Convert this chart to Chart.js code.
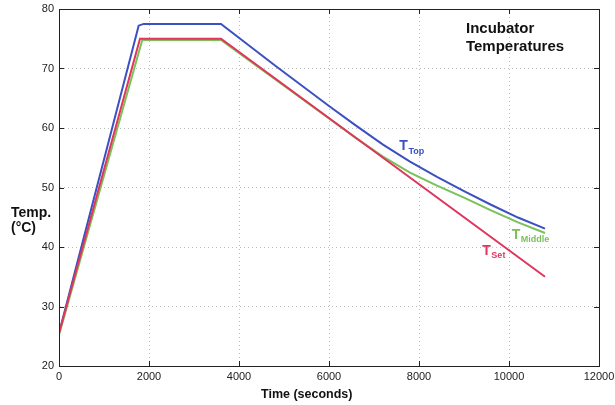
<!DOCTYPE html>
<html>
<head>
<meta charset="utf-8">
<title>Incubator Temperatures</title>
<script src="https://cdn.jsdelivr.net/npm/chart.js@4/dist/chart.umd.min.js"></script>
<style>
  html, body { margin: 0; padding: 0; background: #fff; }
  canvas { display: block; }
</style>
</head>
<body>
<canvas id="chart" width="615" height="405"></canvas>
<script>
// Set-point profile (seconds, °C)
const setTime = [0, 1800, 3600, 10800];
const setTemp = [25.5, 75, 75, 35];

// Measured temperature, top of incubator
const topTime = [0, 1770, 1880, 3600, 4200, 4800, 5400, 6000, 6600, 7200, 7800, 8400, 9000, 9600, 10200, 10800];
const topTemp = [25.5, 77.2, 77.5, 77.5, 74.0, 70.5, 67.1, 63.7, 60.4, 57.2, 54.35, 51.8, 49.4, 47.1, 44.95, 43.1];

// Measured temperature, middle of incubator
const midTime = [0, 1850, 3600, 6000, 6600, 7200, 7800, 8400, 9000, 9600, 10200, 10800];
const midTemp = [25.2, 74.8, 74.8, 61.6, 58.3, 55.2, 52.5, 50.3, 48.3, 46.15, 44.15, 42.35];

// Axis ticks
const xTicks = [0, 2000, 4000, 6000, 8000, 10000, 12000];
const yTicks = [20, 30, 40, 50, 60, 70, 80];

const COLORS = { set: '#e0355c', top: '#3b50c2', mid: '#78c257' };

function points(ts, vs) {
  return ts.map((t, i) => ({ x: t, y: vs[i] }));
}

// Short inward tick marks on all four sides, plus the closed frame
const frameTicks = {
  id: 'frameTicks',
  afterDraw(chart) {
    const { ctx, chartArea: a, scales: { x, y } } = chart;
    ctx.save();
    ctx.strokeStyle = '#222';
    ctx.lineWidth = 1;
    ctx.beginPath();
    const L = 5;
    xTicks.slice(1, -1).forEach(v => {
      const px = Math.round(x.getPixelForValue(v)) + 0.5;
      ctx.moveTo(px, a.bottom); ctx.lineTo(px, a.bottom - L);
      ctx.moveTo(px, a.top); ctx.lineTo(px, a.top + L);
    });
    yTicks.slice(1, -1).forEach(v => {
      const py = Math.round(y.getPixelForValue(v)) + 0.5;
      ctx.moveTo(a.left, py); ctx.lineTo(a.left + L, py);
      ctx.moveTo(a.right, py); ctx.lineTo(a.right - L, py);
    });
    ctx.stroke();
    ctx.strokeRect(Math.round(a.left) + 0.5, Math.round(a.top) + 0.5,
                   Math.round(a.right - a.left), Math.round(a.bottom - a.top));
    ctx.restore();
  }
};

// Text labels: titles and the series names with subscripts
const labels = {
  id: 'labels',
  afterDraw(chart) {
    const { ctx, scales: { x, y } } = chart;
    const FONT = '"Liberation Sans", Arial, sans-serif';
    ctx.save();
    ctx.textAlign = 'left';
    ctx.textBaseline = 'alphabetic';

    // Plot caption
    ctx.fillStyle = '#111';
    ctx.font = 'bold 15px ' + FONT;
    ctx.fillText('Incubator', x.getPixelForValue(9044), y.getPixelForValue(75.9));
    ctx.fillText('Temperatures', x.getPixelForValue(9044), y.getPixelForValue(73.0));

    // Axis titles
    ctx.font = 'bold 14px ' + FONT;
    ctx.fillText('Temp.', 11, 217);
    ctx.fillText('(°C)', 11, 232);
    ctx.font = 'bold 12.5px ' + FONT;
    ctx.fillText('Time (seconds)', 261, 398);

    // Series labels
    const series = [
      { main: 'T', sub: 'Top',    t: 7563,  v: 56.3,  color: COLORS.top },
      { main: 'T', sub: 'Middle', t: 10060, v: 41.35, color: COLORS.mid },
      { main: 'T', sub: 'Set',    t: 9407,  v: 38.66, color: COLORS.set }
    ];
    series.forEach(s => {
      const px = x.getPixelForValue(s.t);
      const py = y.getPixelForValue(s.v);
      ctx.fillStyle = s.color;
      ctx.font = 'bold 14px ' + FONT;
      ctx.fillText(s.main, px, py);
      const w = ctx.measureText(s.main).width;
      ctx.font = 'bold 9px ' + FONT;
      ctx.fillText(s.sub, px + w + 0.5, py + 3.5);
    });
    ctx.restore();
  }
};

const tickFont = { family: '"Liberation Sans", Arial, sans-serif', size: 11 };
const gridColor = 'rgba(110,110,110,0.45)';
const plainNumber = v => String(v);

new Chart(document.getElementById('chart'), {
  type: 'line',
  data: {
    datasets: [
      { label: 'T Set', data: points(setTime, setTemp), borderColor: COLORS.set },
      { label: 'T Middle', data: points(midTime, midTemp), borderColor: COLORS.mid },
      { label: 'T Top', data: points(topTime, topTemp), borderColor: COLORS.top }
    ].map(d => Object.assign(d, {
      borderWidth: 2, pointRadius: 0, tension: 0, fill: false
    }))
  },
  options: {
    responsive: false,
    animation: false,
    events: [],
    layout: { padding: { left: 0, right: 16, top: 9, bottom: 0 } },
    plugins: { legend: { display: false }, tooltip: { enabled: false } },
    scales: {
      x: {
        type: 'linear',
        min: xTicks[0],
        max: xTicks[xTicks.length - 1],
        afterBuildTicks(s) { s.ticks = xTicks.map(v => ({ value: v })); },
        afterFit(s) { s.height = 39; s.paddingLeft = 0; s.paddingRight = 0; },
        ticks: { color: '#222', font: tickFont, padding: 4, maxRotation: 0, autoSkip: false, callback: plainNumber },
        grid: { color: gridColor, lineWidth: 1, drawTicks: false },
        border: { display: true, color: '#222', width: 1, dash: [1, 3] }
      },
      y: {
        type: 'linear',
        min: yTicks[0],
        max: yTicks[yTicks.length - 1],
        afterBuildTicks(s) { s.ticks = yTicks.map(v => ({ value: v })); },
        afterFit(s) { s.width = 59; s.paddingTop = 0; s.paddingBottom = 0; },
        ticks: { color: '#222', font: tickFont, padding: 5, autoSkip: false, callback: plainNumber },
        grid: { color: gridColor, lineWidth: 1, drawTicks: false },
        border: { display: true, color: '#222', width: 1, dash: [1, 3] }
      }
    }
  },
  plugins: [frameTicks, labels]
});
</script>
</body>
</html>
